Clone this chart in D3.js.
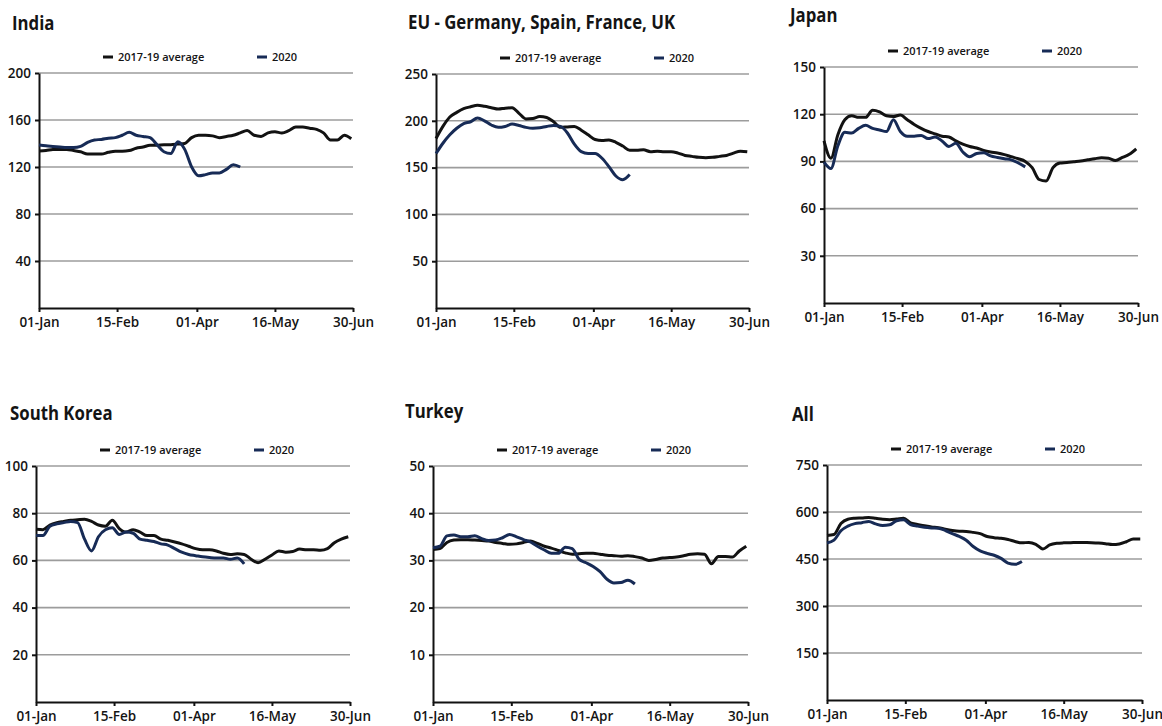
<!DOCTYPE html>
<meta charset="utf-8">
<script src="https://d3js.org/d3.v7.min.js"></script>
<style>
    body { margin: 0; background: #fff; }
    text { font-family: "Open Sans", sans-serif; fill: #141414; }
    .grid { stroke: #9c9c9c; stroke-width: 1.6; }
    .axis path, .axis line { stroke: #111; stroke-width: 2; }
    .axis text { font-size: 13.5px; font-weight: 600; }
    .series { fill: none; stroke-width: 3; stroke-linejoin: round; }
</style>
<svg id="chart" width="1162" height="726"></svg>
<script>
    var days = [0, 4, 8, 12, 16, 20, 24, 28, 32, 36, 40, 44, 48, 52, 56, 60, 64, 68, 72, 76, 80, 84, 88, 92,
        96, 100, 104, 108, 112, 116, 120, 124, 128, 132, 136, 140, 144, 148, 152, 156, 160, 164, 168, 172, 176, 180];

    var tickDays = [0, 45, 91, 136, 181];
    var tickNames = ["01-Jan", "15-Feb", "01-Apr", "16-May", "30-Jun"];
    var legendNames = ["2017-19 average", "2020"];

    var indiaTicks = [40, 80, 120, 160, 200];
    var indiaAvg = [133.6, 134, 135, 135, 135, 134, 133, 131, 131, 131, 132.5, 133.5, 133.5, 134, 136, 137, 138.5, 138.5,
        139, 139, 139.5, 140, 145, 147, 147, 146.5, 145, 146, 147, 149, 151, 147, 146, 149, 150, 149, 151, 154, 154,
        153, 152, 149, 143, 143, 147, 144];
    var india2020 = [138.7, 138, 137.5, 137, 136.5, 136.5, 137.5, 141, 143, 143.5, 144.5, 145, 147, 149.5, 147, 146,
        145, 139, 133, 131.5, 141.5, 135, 120, 112.5, 113.5, 115, 115, 118, 122, 120];

    var euTicks = [50, 100, 150, 200, 250];
    var euAvg = [181, 194, 204, 209, 213, 215, 216.5, 215.5, 214, 212.5, 213.5, 214, 208, 202, 202.5, 204.5, 203.5, 199,
        193, 193.5, 194, 190, 185, 180, 179, 179.5, 177, 173, 168.5, 168.5, 169, 167, 167.5, 167, 167, 165.5, 163, 162,
        161, 160.5, 161, 162, 163, 165.5, 167.5, 167];
    var eu2020 = [165, 176, 185, 192, 197, 199, 203, 200, 195.5, 193, 194, 196.5, 195, 193, 192, 192.5, 194, 195, 194,
        187, 175, 167, 165, 165, 160, 151, 141, 137, 142.5];

    var japanTicks = [30, 60, 90, 120, 150];
    var japanAvg = [103, 92, 107, 116.5, 119, 118, 118, 122.5, 121.5, 119, 118.5, 119.5, 116.5, 113.5, 111, 109, 107.5,
        106, 105.5, 103, 101, 99.5, 98.5, 97, 96, 95.3, 94.3, 93, 91.7, 90, 86, 78.5, 77.5, 86, 89, 89.3, 89.8, 90.3, 91,
        91.7, 92.3, 92, 90.6, 92.5, 94.5, 98];
    var japan2020 = [89.6, 85.5, 100, 108.5, 108, 111, 113, 111, 110, 109, 116.5, 109, 106, 106, 106.5, 104.5, 105.5,
        103, 99.5, 101.5, 96, 93, 95, 95.5, 93.5, 92.5, 91.7, 91, 89, 86.5];

    var koreaTicks = [20, 40, 60, 80, 100];
    var koreaAvg = [73.2, 73, 75, 76, 76.5, 77, 77.2, 77.4, 76.5, 75, 74.5, 77, 73.5, 72, 73, 72, 70.5, 70.5, 69, 68.5,
        67.8, 67, 66, 65, 64.5, 64.5, 64, 63, 62.5, 62.8, 62.5, 60.5, 59, 60.5, 62.3, 64, 63.5, 63.8, 64.8, 64.5, 64.5,
        64.3, 65, 67.5, 69, 70];
    var korea2020 = [70.6, 70.5, 74.5, 75.5, 76, 76.5, 76, 69, 64, 70, 73, 73.8, 71, 72, 71.5, 69, 68.5, 68, 67, 66.5,
        65, 63.5, 62.5, 62, 61.5, 61.2, 61, 61, 60.5, 61, 58.5];

    var turkeyTicks = [10, 20, 30, 40, 50];
    var turkeyAvg = [32.3, 32.5, 33.8, 34.3, 34.4, 34.4, 34.3, 34.2, 34.1, 33.8, 33.6, 33.4, 33.5, 33.8, 34.1, 33.6, 33,
        32.6, 32.1, 31.6, 31.3, 31.4, 31.5, 31.5, 31.3, 31.1, 31, 30.9, 31, 30.8, 30.5, 30, 30.2, 30.5, 30.6, 30.7, 31,
        31.3, 31.4, 31.3, 29.3, 30.8, 30.8, 30.7, 32, 33];
    var turkey2020 = [32.7, 33, 35.2, 35.4, 35, 35, 35.2, 34.6, 34.2, 34.3, 34.8, 35.5, 35, 34.4, 33.9, 33, 32.2, 31.5,
        31.5, 32.8, 32.5, 30.2, 29.5, 28.7, 27.6, 26, 25.2, 25.3, 25.8, 25];

    var allTicks = [150, 300, 450, 600, 750];
    var allAvg = [525, 528, 563, 577, 580, 581, 582.5, 580, 577, 575.5, 577.5, 580, 565, 560.5, 556, 552, 550, 545, 541,
        538.5, 538, 535, 531, 522, 518, 516, 512, 506, 501.5, 503, 497, 482, 495, 500, 501.5, 502, 503, 502.5, 502, 501,
        499, 496, 498, 505, 514, 514];
    var all2020 = [501, 510, 540, 555, 563, 566, 570, 562, 557, 559, 572, 575, 560, 555, 551, 549, 548, 541, 531, 522,
        510, 490, 476, 468, 462, 452, 437, 433, 442];

    // plot boxes: left, top, right, bottom
    var panels = [
        { title: "India", ticks: indiaTicks, avg: indiaAvg, cur: india2020, box: [39, 73, 353, 308], tx: 12, ty: 30 },
        { title: "EU - Germany, Spain, France, UK", ticks: euTicks, avg: euAvg, cur: eu2020, box: [436, 74, 749, 308], tx: 408, ty: 29 },
        { title: "Japan", ticks: japanTicks, avg: japanAvg, cur: japan2020, box: [824, 67, 1138, 303], tx: 790, ty: 22 },
        { title: "South Korea", ticks: koreaTicks, avg: koreaAvg, cur: korea2020, box: [36, 466, 350, 702], tx: 10, ty: 420 },
        { title: "Turkey", ticks: turkeyTicks, avg: turkeyAvg, cur: turkey2020, box: [433, 466, 748, 702], tx: 405, ty: 418 },
        { title: "All", ticks: allTicks, avg: allAvg, cur: all2020, box: [827, 465, 1142, 700], tx: 792, ty: 421 }
    ];

    var colors = ["#121212", "#172b56"];

    var svg = d3.select("#chart");

    panels.forEach(function(p) {
        var left = p.box[0], top = p.box[1], right = p.box[2], bottom = p.box[3];
        var g = svg.append("g");

        var x = d3.scaleLinear().domain([0, 181]).range([left, right]);
        var y = d3.scaleLinear().domain([0, d3.max(p.ticks)]).range([bottom, top]);

        // title
        g.append("text")
            .attr("transform", "translate(" + p.tx + "," + p.ty + ") scale(0.84,1)")
            .style("font-size", "20px")
            .style("font-weight", 700)
            .text(p.title);

        // gridlines
        g.selectAll(".grid")
            .data(p.ticks)
            .enter().append("line")
            .attr("class", "grid")
            .attr("x1", left)
            .attr("x2", right)
            .attr("y1", function(d) { return y(d); })
            .attr("y2", function(d) { return y(d); });

        // axes
        g.append("g")
            .attr("class", "axis")
            .attr("transform", "translate(" + left + ",0)")
            .call(d3.axisLeft(y).tickValues(p.ticks).tickSize(4).tickSizeOuter(0).tickPadding(4))
            .selectAll("text").attr("fill", "#141414");

        g.append("g")
            .attr("class", "axis")
            .attr("transform", "translate(0," + bottom + ")")
            .call(d3.axisBottom(x).tickValues(tickDays)
                .tickFormat(function(d, i) { return tickNames[i]; })
                .tickSize(4).tickSizeOuter(0).tickPadding(5))
            .selectAll("text").attr("fill", "#141414");

        // series
        var line = d3.line()
            .x(function(d, i) { return x(days[i]); })
            .y(function(d) { return y(d); })
            .curve(d3.curveMonotoneX);

        [p.avg, p.cur].forEach(function(s, k) {
            g.append("path")
                .attr("class", "series")
                .attr("d", line(s))
                .attr("stroke", colors[k]);
        });

        // legend
        var ly = top - 16;
        var offs = [64, 218];
        legendNames.forEach(function(name, k) {
            g.append("line")
                .attr("x1", left + offs[k])
                .attr("x2", left + offs[k] + 10)
                .attr("y1", ly)
                .attr("y2", ly)
                .attr("stroke", colors[k])
                .attr("stroke-width", 3);
            g.append("text")
                .attr("x", left + offs[k] + 15)
                .attr("y", ly)
                .attr("dy", "0.35em")
                .style("font-size", "11px")
                .style("font-weight", 600)
                .text(name);
        });
    });
</script>
